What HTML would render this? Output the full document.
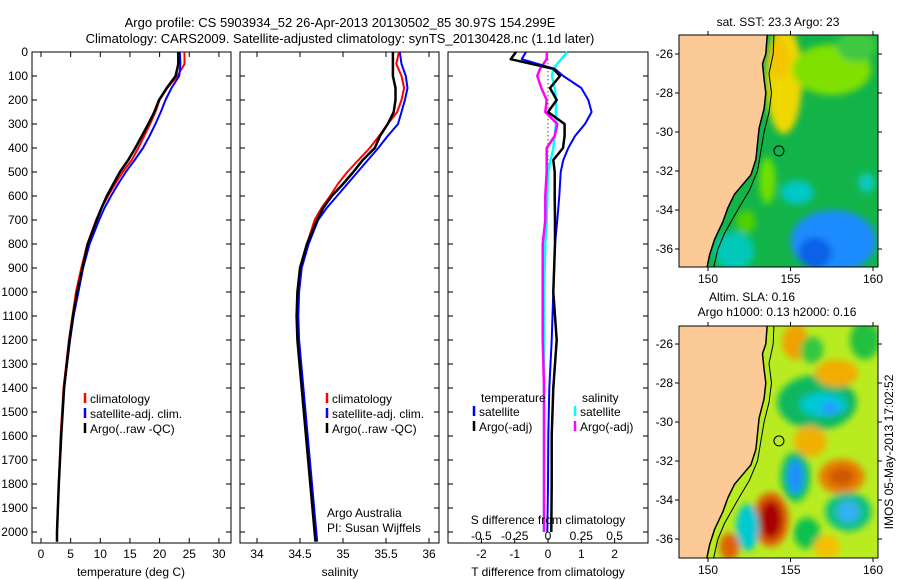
<!DOCTYPE html>
<html><head><meta charset="utf-8"><style>
html,body{margin:0;padding:0;background:#fff;}
svg{display:block;font-family:"Liberation Sans",sans-serif;}
text{fill:#000;}
</style></head><body>
<svg id="fig" width="900" height="580" viewBox="0 0 900 580" xmlns="http://www.w3.org/2000/svg">
<defs>
<filter id="blur" x="-50%" y="-50%" width="200%" height="200%"><feGaussianBlur stdDeviation="3.5"/></filter>
<clipPath id="clipTop"><rect x="679" y="35" width="199" height="232"/></clipPath>
<clipPath id="clipBot"><rect x="679" y="326" width="199" height="232"/></clipPath>
</defs>
<text x="340" y="27" font-size="13" text-anchor="middle">Argo profile: CS 5903934_52 26-Apr-2013 20130502_85 30.97S 154.299E</text>
<text x="340" y="43" font-size="13" text-anchor="middle">Climatology: CARS2009. Satellite-adjusted climatology: synTS_20130428.nc (1.1d later)</text>
<g id="g"></g>
</svg>
<script>
// ---- data ----
const depths = [0,50,100,150,200,250,300,350,400,450,500,550,600,650,700,800,900,1000,1100,1200,1400,1600,1800,2000,2040];
const tempArgo = [23.15,23.15,22.7,21.2,19.9,19.1,18.1,17.0,15.9,14.7,13.3,12.2,11.1,10.2,9.4,7.9,7.0,6.1,5.4,4.8,3.9,3.4,3.0,2.7,2.7];
const tempClim = [24.2,24.2,23.0,21.3,20.0,19.3,18.4,17.4,16.4,15.3,13.8,12.5,11.3,10.2,9.3,7.8,6.8,5.9,5.3,4.7,3.8,3.3,3.0,2.7,2.7];
const tempSat = [23.4,23.5,23.3,22.0,21.0,20.2,19.3,18.3,17.2,15.8,14.3,13.0,11.8,10.7,9.8,8.2,7.1,6.3,5.5,4.9,3.9,3.4,3.0,2.7,2.7];
const salArgo = [35.58,35.58,35.58,35.61,35.61,35.59,35.52,35.43,35.37,35.23,35.12,35.0,34.87,34.77,34.70,34.58,34.5,34.47,34.46,34.47,34.52,34.57,34.62,34.67,34.68];
const salClim = [35.65,35.62,35.68,35.71,35.68,35.63,35.52,35.42,35.31,35.18,35.05,34.94,34.85,34.75,34.67,34.58,34.51,34.48,34.47,34.48,34.53,34.58,34.63,34.68,34.69];
const salSat = [35.66,35.68,35.73,35.75,35.72,35.68,35.64,35.52,35.41,35.29,35.17,35.05,34.93,34.81,34.71,34.6,34.52,34.49,34.48,34.49,34.54,34.59,34.64,34.69,34.7];
const diffDepths = [0,30,70,100,150,200,250,300,350,400,450,500,600,700,800,1000,1200,1400,1600,1800,2000];
const tDiffArgo = [-0.96,-1.12,0.16,0.36,0.06,0.26,0.0,0.5,0.5,0.45,0.16,0.2,0.2,0.21,0.21,0.16,0.26,0.16,0.11,0.11,0.1];
const tDiffSat = [-0.66,-0.79,0.2,0.46,1.0,1.21,1.31,1.11,0.81,0.61,0.46,0.38,0.34,0.28,0.21,0.16,0.11,0.04,0.01,0.0,-0.02];
const sDiffSat = [0.145,0.1,0.04,0.03,0.05,0.06,0.06,0.06,0.05,0.04,0.02,0.0,-0.005,-0.01,-0.02,-0.03,-0.03,-0.03,-0.03,-0.03,-0.03];
const sDiffArgo = [-0.008,-0.01,-0.06,-0.08,-0.05,-0.01,-0.02,0.07,0.05,-0.01,-0.01,-0.01,-0.02,-0.02,-0.04,-0.04,-0.04,-0.03,-0.03,-0.03,-0.03];
const depthTicks = [0,100,200,300,400,500,600,700,800,900,1000,1100,1200,1300,1400,1500,1600,1700,1800,1900,2000];
const tempTicks = [0,5,10,15,20,25,30];
const salTicks = [34,34.5,35,35.5,36];
const tDiffTicks = [-2,-1,0,1,2];
const sDiffTicks = [-0.5,-0.25,0,0.25,0.5];
const sDiffTickLabels = ["-0.5","-0.25","0","0.25","0.5"];
const lonTicks = [150,155,160];
const latTicks = [-26,-28,-30,-32,-34,-36];

// ---- scales ----
const yD = d => 52 + d*0.24;
const xT = t => 41 + t*5.93;
const xS = s => 257 + (s-34)*86;
const xDT = t => 548 + t*33.3;
const xDS = s => 548 + s*4*33.3;
const mapX = lon => 708 + (lon-150)*16.5;
const mapYTop = lat => 54 + (-26-lat)*19.5;
const mapYBot = lat => 344 + (-26-lat)*19.5;

const NS="http://www.w3.org/2000/svg";
const G=document.getElementById('g');
function el(tag,attrs,parent,txt){const e=document.createElementNS(NS,tag);for(const k in attrs)e.setAttribute(k,attrs[k]);if(txt!==undefined)e.textContent=txt;(parent||G).appendChild(e);return e;}

function panel(x0,x1,name){
  const r=el('rect',{x:x0,y:52,width:x1-x0,height:491,fill:'#fff',stroke:'#000','stroke-width':1});
  
  
  depthTicks.forEach(d=>{
    el('line',{x1:x0,x2:x0+5,y1:yD(d),y2:yD(d),stroke:'#000'});
    el('line',{x1:x1-5,x2:x1,y1:yD(d),y2:yD(d),stroke:'#000'});
  });
}
function line(xs,ys,color,w,name){
  const pts=xs.map((v,i)=>v.toFixed(1)+','+ys[i].toFixed(1)).join(' ');
  const p=el('polyline',{points:pts,fill:'none',stroke:color,'stroke-width':w,'stroke-linejoin':'round'});
  
  
}

// panel 1: temperature
panel(32,231,'temperature-panel');
tempTicks.forEach(t=>{
  el('line',{x1:xT(t),x2:xT(t),y1:52,y2:57,stroke:'#000'});
  el('line',{x1:xT(t),x2:xT(t),y1:538,y2:543,stroke:'#000'});
  const tx=el('text',{x:xT(t),y:558,'font-size':12,'text-anchor':'middle'},G,String(t));
  
  
});
depthTicks.forEach(d=>{
  const tx=el('text',{x:28,y:yD(d)+4,'font-size':12,'text-anchor':'end'},G,String(d));
  
  
});
line(tempClim.map(xT),depths.map(yD),'#f00',2,'temperature-climatology-line');
line(tempSat.map(xT),depths.map(yD),'#00f',2,'temperature-satellite-line');
line(tempArgo.map(xT),depths.map(yD),'#000',2.5,'temperature-argo-line');

// panel 2: salinity
panel(240,439,'salinity-panel');
salTicks.forEach(s=>{
  el('line',{x1:xS(s),x2:xS(s),y1:52,y2:57,stroke:'#000'});
  el('line',{x1:xS(s),x2:xS(s),y1:538,y2:543,stroke:'#000'});
  const tx=el('text',{x:xS(s),y:558,'font-size':12,'text-anchor':'middle'},G,String(s));
  
  
});
line(salClim.map(xS),depths.map(yD),'#f00',2,'salinity-climatology-line');
line(salSat.map(xS),depths.map(yD),'#00f',2,'salinity-satellite-line');
line(salArgo.map(xS),depths.map(yD),'#000',2.5,'salinity-argo-line');

// panel 3: differences
panel(448,648,'difference-panel');
el('line',{x1:xDT(0),x2:xDT(0),y1:yD(30),y2:yD(620),stroke:'#000','stroke-dasharray':'1,3'});
tDiffTicks.forEach(t=>{
  el('line',{x1:xDT(t),x2:xDT(t),y1:538,y2:543,stroke:'#000'});
  const tx=el('text',{x:xDT(t),y:558,'font-size':12,'text-anchor':'middle'},G,String(t));
  
  
});
sDiffTicks.forEach((s,i)=>{
  const tx=el('text',{x:xDS(s),y:540,'font-size':12,'text-anchor':'middle'},G,sDiffTickLabels[i]);
  
  
});
line(sDiffSat.map(xDS),diffDepths.map(yD),'#0ff',2.5,'salinity-diff-satellite-line');
line(sDiffArgo.map(xDS),diffDepths.map(yD),'#f0f',2.5,'salinity-diff-argo-line');
line(tDiffSat.map(xDT),diffDepths.map(yD),'#00f',2,'temperature-diff-satellite-line');
line(tDiffArgo.map(xDT),diffDepths.map(yD),'#000',2.5,'temperature-diff-argo-line');

// ---- maps ----
const coast=[[153.6,-24.9],[153.5,-26],[153.3,-26.5],[153.4,-27.3],[153.5,-28],[153.4,-28.8],[153.1,-29.8],[153.0,-30.6],[152.9,-31.4],[152.6,-32.2],[152.1,-32.7],[151.6,-33.2],[151.2,-33.9],[150.9,-34.6],[150.4,-35.5],[150.1,-36.3],[149.9,-37.1]];
const shelf=[[154.0,-24.9],[153.95,-26],[153.7,-27],[153.85,-28],[153.7,-29],[153.4,-30],[153.2,-31],[153.0,-32],[152.5,-33],[151.8,-34],[151.0,-35.2],[150.6,-36],[150.3,-37.1]];
function drawMap(yf,clip,base,blobs,name){
  const g=el('g',{'clip-path':'url(#'+clip+')'});
  
  
  const y0=yf(-25), y1=yf(-37);
  const top=yf===mapYTop?35:326;
  el('rect',{x:679,y:top,width:199,height:232,fill:base},g);
  const bg=el('g',{filter:'url(#blur)'},g);
  blobs.forEach(b=>el('ellipse',{cx:mapX(b[0]),cy:yf(b[1]),rx:b[2]*16.5,ry:b[3]*19.5,fill:b[4]},bg));
  const land=coast.map(p=>mapX(p[0]).toFixed(1)+','+yf(p[1]).toFixed(1)).join(' ');
  el('polygon',{points:'670,'+(y0-10)+' '+land+' 670,'+(y1+10),fill:'#FCCA96'},g);
  el('polyline',{points:land,fill:'none',stroke:'#000','stroke-width':1.5},g);
  el('polyline',{points:shelf.map(p=>mapX(p[0]).toFixed(1)+','+yf(p[1]).toFixed(1)).join(' '),fill:'none',stroke:'#000','stroke-width':1},g);
  el('circle',{cx:mapX(154.3),cy:yf(-30.97),r:5,fill:'none',stroke:'#000','stroke-width':1});
  el('rect',{x:679,y:top,width:199,height:232,fill:'none',stroke:'#000'});
  lonTicks.forEach(l=>{
    const ly=top+232;
    el('line',{x1:mapX(l),x2:mapX(l),y1:ly,y2:ly+4,stroke:'#000'});
    el('line',{x1:mapX(l),x2:mapX(l),y1:top,y2:top-4,stroke:'#000'});
    const t=el('text',{x:mapX(l),y:ly+16,'font-size':12,'text-anchor':'middle'},G,String(l));
    
    
  });
  latTicks.forEach(l=>{
    el('line',{x1:675,x2:679,y1:yf(l),y2:yf(l),stroke:'#000'});
    el('line',{x1:878,x2:882,y1:yf(l),y2:yf(l),stroke:'#000'});
    const t=el('text',{x:673,y:yf(l)+4,'font-size':12,'text-anchor':'end'},G,String(l));
    
    
  });
}
drawMap(mapYTop,'clipTop','#12B44A',[
 [154.6,-27.3,1.1,2.8,'#EED800'],[154.3,-26.2,0.6,1.1,'#F5C400'],[157.5,-26.8,2.4,1.3,'#80E000'],
 [159,-25.6,1.2,0.8,'#40C840'],[153.6,-32.5,0.5,1.2,'#70E000'],[157.6,-35.6,2.6,1.6,'#1E8CFF'],
 [156.5,-36.2,1.0,0.8,'#1060E8'],[155.4,-33.1,1.0,0.6,'#00C8C8'],[159.6,-32.6,0.5,0.5,'#10C8C0'],
 [151.6,-36.1,1.2,1.0,'#00C8B8'],[152.3,-34.6,0.6,0.6,'#50D000']
],'sst-map');
drawMap(mapYBot,'clipBot','#B8EC20',[
 [156.6,-29.0,2.4,1.4,'#10B860'],[157.0,-29.1,1.4,0.6,'#00C8D8'],[157.4,-29.3,0.6,0.35,'#1EA0FF'],
 [155.3,-25.9,0.8,0.9,'#F0A000'],[157.8,-27.5,1.3,0.7,'#F2AC00'],[156.2,-31.0,1.0,0.8,'#F2B000'],
 [158.1,-32.8,1.4,0.9,'#E88000'],[158.1,-32.8,0.8,0.5,'#D05800'],[155.3,-32.8,0.9,1.3,'#10C060'],
 [155.3,-32.8,0.5,0.9,'#1E90FF'],[153.8,-35.0,1.1,1.4,'#E06000'],[153.8,-35.0,0.7,1.0,'#A80000'],
 [152.4,-35.4,0.7,1.2,'#00C8D0'],[151.3,-36.4,0.6,0.7,'#E06000'],[158.5,-34.6,1.4,1.0,'#10C080'],
 [158.5,-34.6,0.7,0.6,'#30B0F0'],[156.0,-35.7,0.8,0.8,'#10C050'],[157.2,-36.4,0.8,0.6,'#F5C000'],
 [159.5,-25.8,0.9,1.0,'#20C040'],[156.3,-26.3,0.7,0.7,'#30C840']
],'sla-map');

function txt(x,y,s,name,size,anchor){const t=el('text',{x:x,y:y,'font-size':size||12,'text-anchor':anchor||'start'},G,s);return t;}
txt(778,26,'sat. SST: 23.3 Argo: 23','sst-map-title',12,'middle');
txt(752,301,'Altim. SLA: 0.16','sla-map-title',12,'middle');
txt(777,316,'Argo h1000: 0.13 h2000: 0.16','sla-map-subtitle',12,'middle');
const vt=txt(0,0,'IMOS 05-May-2013 17:02:52','timestamp-label',12,'middle');
vt.setAttribute('transform','translate(893,452) rotate(-90)');

// axis titles
txt(131,576,'temperature (deg C)','temperature-axis-title',12,'middle');
txt(340,576,'salinity','salinity-axis-title',12,'middle');
txt(548,576,'T difference from climatology','t-diff-axis-title',12,'middle');
txt(548,524,'S difference from climatology','s-diff-axis-title',12,'middle');
txt(327,517,'Argo Australia','credit-line-1',12);
txt(327,532,'PI: Susan Wijffels','credit-line-2',12);

// legends
function legend(x,y,color,label,name){
  el('line',{x1:x,x2:x,y1:y-10,y2:y,stroke:color,'stroke-width':2.5});
  txt(x+5,y,label,name,12);
}
[[85,'#f00','climatology'],[85,'#00f','satellite-adj. clim.'],[85,'#000','Argo(..raw -QC)']].forEach((l,i)=>legend(l[0],403+i*15,l[1],l[2],'temperature-legend-entry'));
[[327,'#f00','climatology'],[327,'#00f','satellite-adj. clim.'],[327,'#000','Argo(..raw -QC)']].forEach((l,i)=>legend(l[0],403+i*15,l[1],l[2],'salinity-legend-entry'));
txt(481,402,'temperature','diff-legend-temperature-header',12);
legend(474,416,'#00f','satellite','diff-legend-t-satellite');
legend(474,431,'#000','Argo(-adj)','diff-legend-t-argo');
txt(582,402,'salinity','diff-legend-salinity-header',12);
legend(575,416,'#0ff','satellite','diff-legend-s-satellite');
legend(575,431,'#f0f','Argo(-adj)','diff-legend-s-argo');
</script>
</body></html>
